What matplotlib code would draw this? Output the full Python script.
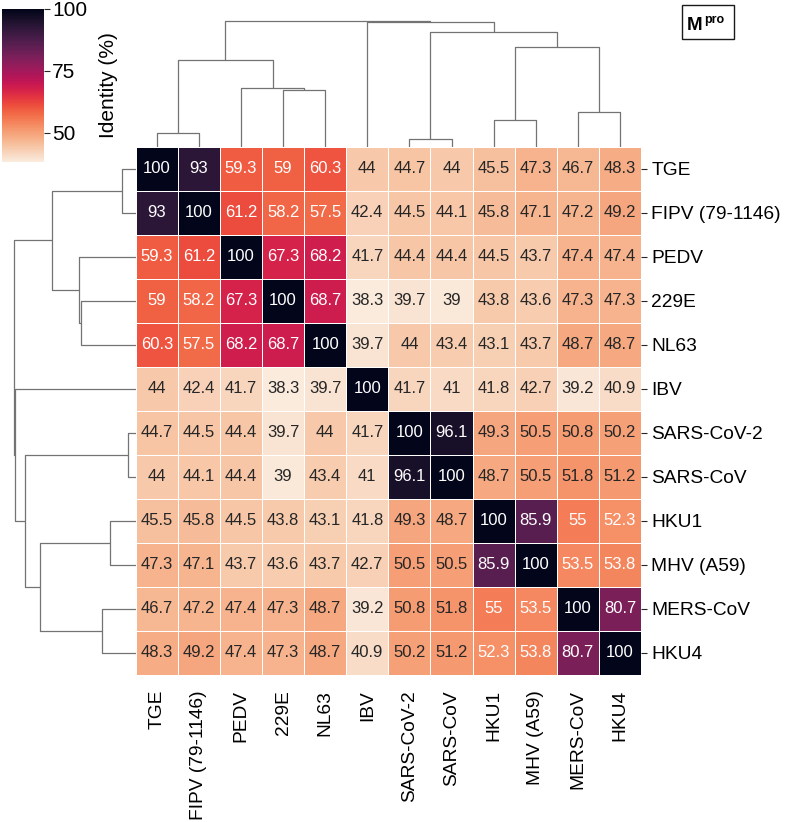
import numpy as np
import pandas as pd
import matplotlib
matplotlib.use("Agg")
import matplotlib.pyplot as plt
from matplotlib.patches import Rectangle
import seaborn as sns

plt.rcParams['font.family'] = ['Liberation Sans', 'DejaVu Sans']

labels = ["TGE", "FIPV (79-1146)", "PEDV", "229E", "NL63", "IBV",
          "SARS-CoV-2", "SARS-CoV", "HKU1", "MHV (A59)", "MERS-CoV", "HKU4"]

row_TGE   = [100, 93, 59.3, 59, 60.3, 44, 44.7, 44, 45.5, 47.3, 46.7, 48.3]
row_FIPV  = [93, 100, 61.2, 58.2, 57.5, 42.4, 44.5, 44.1, 45.8, 47.1, 47.2, 49.2]
row_PEDV  = [59.3, 61.2, 100, 67.3, 68.2, 41.7, 44.4, 44.4, 44.5, 43.7, 47.4, 47.4]
row_229E  = [59, 58.2, 67.3, 100, 68.7, 38.3, 39.7, 39, 43.8, 43.6, 47.3, 47.3]
row_NL63  = [60.3, 57.5, 68.2, 68.7, 100, 39.7, 44, 43.4, 43.1, 43.7, 48.7, 48.7]
row_IBV   = [44, 42.4, 41.7, 38.3, 39.7, 100, 41.7, 41, 41.8, 42.7, 39.2, 40.9]
row_SARS2 = [44.7, 44.5, 44.4, 39.7, 44, 41.7, 100, 96.1, 49.3, 50.5, 50.8, 50.2]
row_SARS  = [44, 44.1, 44.4, 39, 43.4, 41, 96.1, 100, 48.7, 50.5, 51.8, 51.2]
row_HKU1  = [45.5, 45.8, 44.5, 43.8, 43.1, 41.8, 49.3, 48.7, 100, 85.9, 55, 52.3]
row_MHV   = [47.3, 47.1, 43.7, 43.6, 43.7, 42.7, 50.5, 50.5, 85.9, 100, 53.5, 53.8]
row_MERS  = [46.7, 47.2, 47.4, 47.3, 48.7, 39.2, 50.8, 51.8, 55, 53.5, 100, 80.7]
row_HKU4  = [48.3, 49.2, 47.4, 47.3, 48.7, 40.9, 50.2, 51.2, 52.3, 53.8, 80.7, 100]

# dendrogram merges: (child a, child b, relative height); leaves 0..11, merge k -> 12+k
merge_a = [0, 6, 8, 10, 3, 2, 12, 14, 13, 5, 18]
merge_b = [1, 7, 9, 11, 4, 16, 17, 15, 19, 20, 21]
merge_h = [0.11, 0.062, 0.208, 0.279, 0.452, 0.465, 0.687, 0.788, 0.908, 0.986, 1.0]

cbar_ticks = [50, 75, 100]

df = pd.DataFrame([row_TGE, row_FIPV, row_PEDV, row_229E, row_NL63, row_IBV,
                   row_SARS2, row_SARS, row_HKU1, row_MHV, row_MERS, row_HKU4],
                  index=labels, columns=labels)

W, H = 789, 822
fig = plt.figure(figsize=(W / 100, H / 100), dpi=100)


def ax_px(l, t, r, b):
    return fig.add_axes([l / W, 1 - b / H, (r - l) / W, (b - t) / H])


hm_l, hm_t, hm_r, hm_b = 135.7, 146.7, 641.0, 674.7
ax = ax_px(hm_l, hm_t, hm_r, hm_b)
cax = ax_px(1.7, 9.0, 44.0, 161.7)

sns.heatmap(df, ax=ax, cbar_ax=cax, cmap="rocket_r", annot=True, fmt="g",
            linewidths=0.5, linecolor="white",
            annot_kws={"fontsize": 12},
            cbar_kws={"ticks": cbar_ticks})
ax.yaxis.tick_right()
ax.set_yticklabels(labels, rotation=0, fontsize=13.8)
ax.set_xticklabels(labels, rotation=90, fontsize=13.8)
ax.tick_params(axis="y", length=4.5, width=0.8, pad=3, color="0.15", right=True, left=False)
ax.tick_params(axis="x", length=0, pad=11)
ax.set_xlabel("")
ax.set_ylabel("")

cax.tick_params(labelsize=15, length=4, width=0.8, color="0.15", pad=2)
cax.set_ylabel("Identity (%)", fontsize=15, labelpad=8)
cax.yaxis.set_label_position("right")
for s in cax.spines.values():
    s.set_visible(False)

# dendrogram geometry
n = len(labels)
pos = {i: i + 0.5 for i in range(n)}
hgt = {i: 0.0 for i in range(n)}
segs = []
for k, (a, b, h) in enumerate(zip(merge_a, merge_b, merge_h)):
    segs.append(([pos[a], pos[a], pos[b], pos[b]], [hgt[a], h, h, hgt[b]]))
    pos[n + k] = (pos[a] + pos[b]) / 2
    hgt[n + k] = h

line_kw = dict(color="0.45", lw=0.9, solid_capstyle="butt")

# top (column) dendrogram
top_scale = 126.0
axt = ax_px(hm_l, hm_t - top_scale * 1.05, hm_r, hm_t)
for xs, ys in segs:
    axt.plot(xs, ys, **line_kw)
axt.set_xlim(0, n)
axt.set_ylim(0, 1.05)
axt.axis("off")

# left (row) dendrogram
row_scale = 122.0
axl = ax_px(hm_l - row_scale * 1.05, hm_t, hm_l, hm_b)
for xs, ys in segs:
    axl.plot(ys, xs, **line_kw)
axl.set_ylim(n, 0)
axl.set_xlim(1.05, 0)
axl.axis("off")

# Mpro label box
fig.patches.append(Rectangle((681.7 / W, 1 - 39.3 / H), (734.3 - 681.7) / W, (39.3 - 5) / H,
                             transform=fig.transFigure, fill=False, edgecolor="0.1", lw=1.0))
fig.text(687 / W, 1 - 29.5 / H, "M", fontsize=13.5, fontweight="bold", ha="left", va="baseline")
fig.text(704.5 / W, 1 - 23 / H, "pro", fontsize=9, fontweight="bold", ha="left", va="baseline")

fig.savefig("out.png", dpi=100)
